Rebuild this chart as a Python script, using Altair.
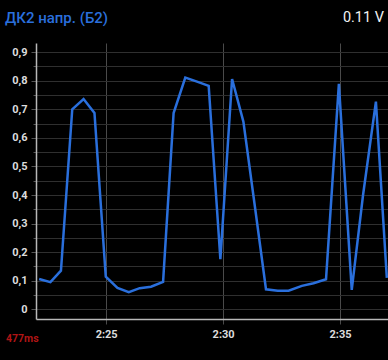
import altair as alt
import pandas as pd

times = ["02:22:08", "02:22:37", "02:23:04", "02:23:33", "02:24:02", "02:24:30",
         "02:24:59", "02:25:29", "02:25:58", "02:26:26", "02:26:55", "02:27:26",
         "02:27:53", "02:28:23", "02:28:53", "02:29:23", "02:29:53", "02:30:23",
         "02:30:52", "02:31:21", "02:31:50", "02:32:20", "02:32:48", "02:33:22",
         "02:33:52", "02:34:24", "02:34:57", "02:35:30", "02:35:59", "02:36:32",
         "02:37:00"]
values = [0.106, 0.095, 0.135, 0.700, 0.736, 0.687, 0.114, 0.075, 0.060, 0.074,
          0.079, 0.096, 0.687, 0.811, 0.797, 0.782, 0.175, 0.806, 0.657, 0.365,
          0.070, 0.065, 0.065, 0.082, 0.091, 0.105, 0.789, 0.068, 0.400, 0.727,
          0.110]
y_ticks = [round(i * 0.05, 2) for i in range(19)]
x_ticks_min = [25, 30, 35]
title_text = "ДК2 напр. (Б2)"
value_text = "0.11 V"
timing_text = "477ms"

df = pd.DataFrame({"t": ["2024-01-01T" + t for t in times], "v": values})

LINE = "#2a6fdc"
FONT = "Roboto"

x_axis = alt.Axis(
    values=[alt.DateTime(year=2024, month=1, date=1, hours=2, minutes=m) for m in x_ticks_min],
    format="%-H:%M", title=None, grid=True, gridColor="#4a4a4a", gridWidth=1,
    domainColor="#b8b8b8", domainWidth=1.5, tickColor="#4a4a4a", tickSize=5,
    labelColor="#dcdcdc", labelFont=FONT, labelFontWeight="bold", labelFontSize=11,
    labelPadding=4,
)
y_axis = alt.Axis(
    values=y_ticks, title=None, grid=True, gridColor="#2f2f2f", gridWidth=1,
    domainColor="#b8b8b8", domainWidth=1.5, tickColor="#555555",
    tickSize={"condition": {"test": "round(datum.value*100) % 10 == 0", "value": 5}, "value": 3},
    labelExpr="round(datum.value*100) % 10 == 0 ? replace(format(datum.value, '.1~f'), '.', ',') : ''",
    labelColor="#dcdcdc", labelFont=FONT, labelFontWeight="bold", labelFontSize=11,
    labelPadding=4,
)

line = alt.Chart(df).mark_line(color=LINE, strokeWidth=2.5, clip=True).encode(
    x=alt.X("t:T", axis=x_axis,
            scale=alt.Scale(domain=[alt.DateTime(year=2024, month=1, date=1, hours=2, minutes=22),
                                    alt.DateTime(year=2024, month=1, date=1, hours=2, minutes=37, seconds=3)])),
    y=alt.Y("v:Q", axis=y_axis, scale=alt.Scale(domain=[-0.034, 0.932], nice=False, zero=False)),
)

blank = alt.Data(values=[{}])
title = alt.Chart(blank).mark_text(color=LINE, font=FONT, fontSize=15, fontWeight=500,
                                   align="left", baseline="middle").encode(
    x=alt.value(-31), y=alt.value(-25), text=alt.value(title_text))
val = alt.Chart(blank).mark_text(color="#f2f2f2", font=FONT, fontSize=14.5, fontWeight="normal",
                                 align="right", baseline="middle").encode(
    x=alt.value(348), y=alt.value(-25), text=alt.value(value_text))
timing = alt.Chart(blank).mark_text(color="#b01515", font=FONT, fontSize=10.5, fontWeight="bold",
                                    align="left", baseline="middle").encode(
    x=alt.value(-30), y=alt.value(296), text=alt.value(timing_text))

chart = alt.layer(line, title, val, timing).properties(
    width=352, height=276,
    autosize=alt.AutoSizeParams(type="none"),
    padding={"left": 36, "top": 43, "right": 0, "bottom": 41},
    background="#000000",
).configure_view(stroke=None)

chart.save("out.html", embed_options={"renderer": "svg", "actions": False})
